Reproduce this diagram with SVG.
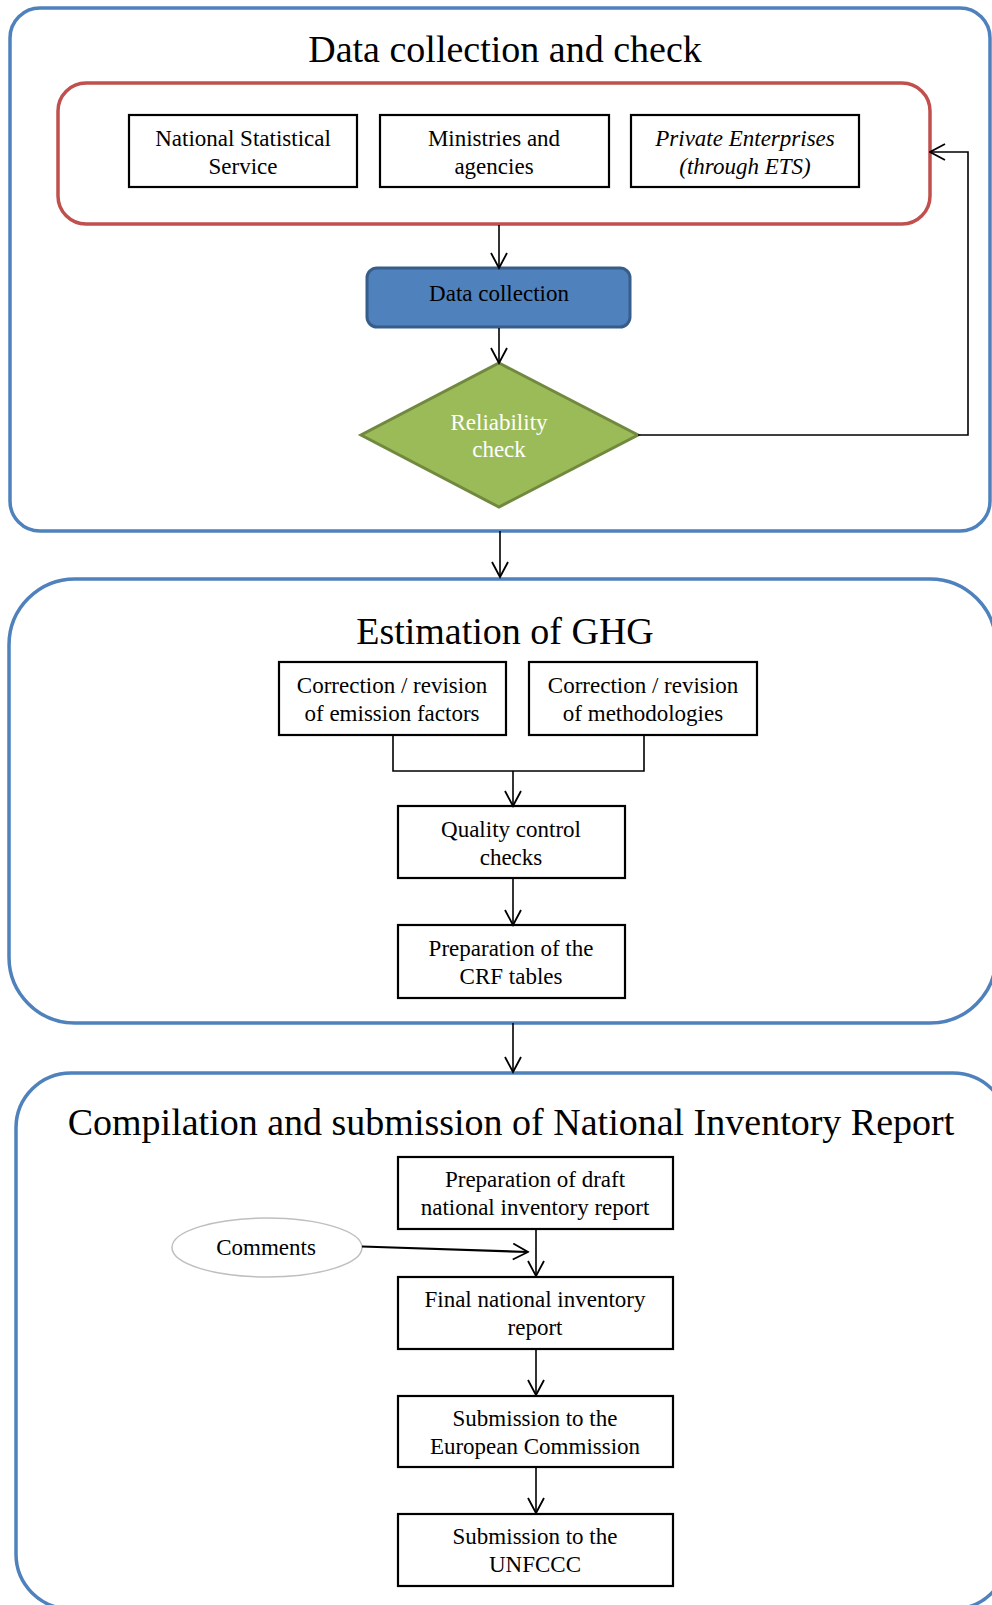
<svg xmlns="http://www.w3.org/2000/svg" width="992" height="1605" viewBox="0 0 992 1605">
<defs>
<style>
text{font-family:"Liberation Serif","Times New Roman",serif;fill:#000;text-anchor:middle}
.t{font-size:38px}
.b{font-size:23px}
.it{font-style:italic}
.panel{fill:#fff;stroke:#4F81BD;stroke-width:3.5}
.box{fill:#fff;stroke:#000;stroke-width:2.2}
.ln{fill:none;stroke:#000;stroke-width:1.6}
</style>
<marker id="ah" viewBox="0 0 18 18" refX="16.5" refY="9" markerWidth="18" markerHeight="18" markerUnits="userSpaceOnUse" orient="auto">
<path d="M1.5,1 L16.5,9 L1.5,17" fill="none" stroke="#000" stroke-width="1.8"/>
</marker>
</defs>
<rect width="992" height="1605" fill="#fff"/>

<g id="panel-data">
<rect class="panel" x="10" y="8" width="980" height="523" rx="30"/>
<text class="t" x="505" y="62">Data collection and check</text>
</g>
<g id="panel-ghg">
<rect class="panel" x="9" y="579" width="987" height="444" rx="66"/>
<text class="t" x="505" y="644">Estimation of GHG</text>
</g>
<g id="panel-nir">
<rect class="panel" x="16" y="1073" width="992" height="536" rx="55"/>
<text class="t" x="511" y="1135">Compilation and submission of National Inventory Report</text>
</g>

<g id="sources">
<rect x="58" y="83" width="872" height="141" rx="28" fill="#fff" stroke="#C0504D" stroke-width="3.5"/>
</g>
<g id="nss">
<rect class="box" x="129" y="115" width="228" height="72"/>
<text class="b" x="243" y="146">National Statistical</text>
<text class="b" x="243" y="174">Service</text>
</g>
<g id="ministries">
<rect class="box" x="380" y="115" width="229" height="72"/>
<text class="b" x="494" y="146">Ministries and</text>
<text class="b" x="494" y="174">agencies</text>
</g>
<g id="private">
<rect class="box" x="631" y="115" width="228" height="72"/>
<text class="b it" x="745" y="146">Private Enterprises</text>
<text class="b it" x="745" y="174">(through ETS)</text>
</g>
<g id="data-collection">
<rect x="367" y="268" width="263" height="59" rx="10" fill="#4F81BD" stroke="#385D8A" stroke-width="3"/>
<text class="b" x="499" y="301">Data collection</text>
</g>
<g id="reliability">
<polygon points="499,363 638,435 499,507 361,435" fill="#9BBB59" stroke="#71893F" stroke-width="3"/>
<text class="b" x="499" y="430" style="fill:#fff">Reliability</text>
<text class="b" x="499" y="457" style="fill:#fff">check</text>
</g>

<g id="corr-ef">
<rect class="box" x="279" y="662" width="227" height="73"/>
<text class="b" x="392" y="693">Correction / revision</text>
<text class="b" x="392" y="721">of emission factors</text>
</g>
<g id="corr-meth">
<rect class="box" x="529" y="662" width="228" height="73"/>
<text class="b" x="643" y="693">Correction / revision</text>
<text class="b" x="643" y="721">of methodologies</text>
</g>
<g id="qc">
<rect class="box" x="398" y="806" width="227" height="72"/>
<text class="b" x="511" y="837">Quality control</text>
<text class="b" x="511" y="865">checks</text>
</g>
<g id="crf">
<rect class="box" x="398" y="925" width="227" height="73"/>
<text class="b" x="511" y="956">Preparation of the</text>
<text class="b" x="511" y="984">CRF tables</text>
</g>

<g id="draft">
<rect class="box" x="398" y="1157" width="275" height="72"/>
<text class="b" x="535" y="1187">Preparation of draft</text>
<text class="b" x="535" y="1215">national inventory report</text>
</g>
<g id="comments">
<ellipse cx="267" cy="1247.5" rx="95" ry="29.5" fill="#fff" stroke="#BFBFBF" stroke-width="1.5"/>
<text class="b" x="266" y="1255">Comments</text>
</g>
<g id="final">
<rect class="box" x="398" y="1277" width="275" height="72"/>
<text class="b" x="535" y="1307">Final national inventory</text>
<text class="b" x="535" y="1335">report</text>
</g>
<g id="sub-ec">
<rect class="box" x="398" y="1396" width="275" height="71"/>
<text class="b" x="535" y="1426">Submission to the</text>
<text class="b" x="535" y="1454">European Commission</text>
</g>
<g id="sub-unfccc">
<rect class="box" x="398" y="1514" width="275" height="72"/>
<text class="b" x="535" y="1544">Submission to the</text>
<text class="b" x="535" y="1572">UNFCCC</text>
</g>

<g id="connectors">
<line class="ln" x1="499" y1="225" x2="499" y2="268" marker-end="url(#ah)"/>
<line class="ln" x1="499" y1="328" x2="499" y2="363" marker-end="url(#ah)"/>
<polyline class="ln" points="638,435 968,435 968,152 930,152" marker-end="url(#ah)"/>
<line class="ln" x1="500" y1="531" x2="500" y2="577" marker-end="url(#ah)"/>
<polyline class="ln" points="393,736 393,771 644,771 644,736"/>
<line class="ln" x1="513" y1="771" x2="513" y2="806" marker-end="url(#ah)"/>
<line class="ln" x1="513" y1="879" x2="513" y2="925" marker-end="url(#ah)"/>
<line class="ln" x1="513" y1="1023" x2="513" y2="1072" marker-end="url(#ah)"/>
<line class="ln" x1="536" y1="1230" x2="536" y2="1276" marker-end="url(#ah)"/>
<line class="ln" x1="362" y1="1246.5" x2="528" y2="1252" style="stroke-width:2.2" marker-end="url(#ah)"/>
<line class="ln" x1="536" y1="1350" x2="536" y2="1395" marker-end="url(#ah)"/>
<line class="ln" x1="536" y1="1468" x2="536" y2="1513" marker-end="url(#ah)"/>
</g>
</svg>
